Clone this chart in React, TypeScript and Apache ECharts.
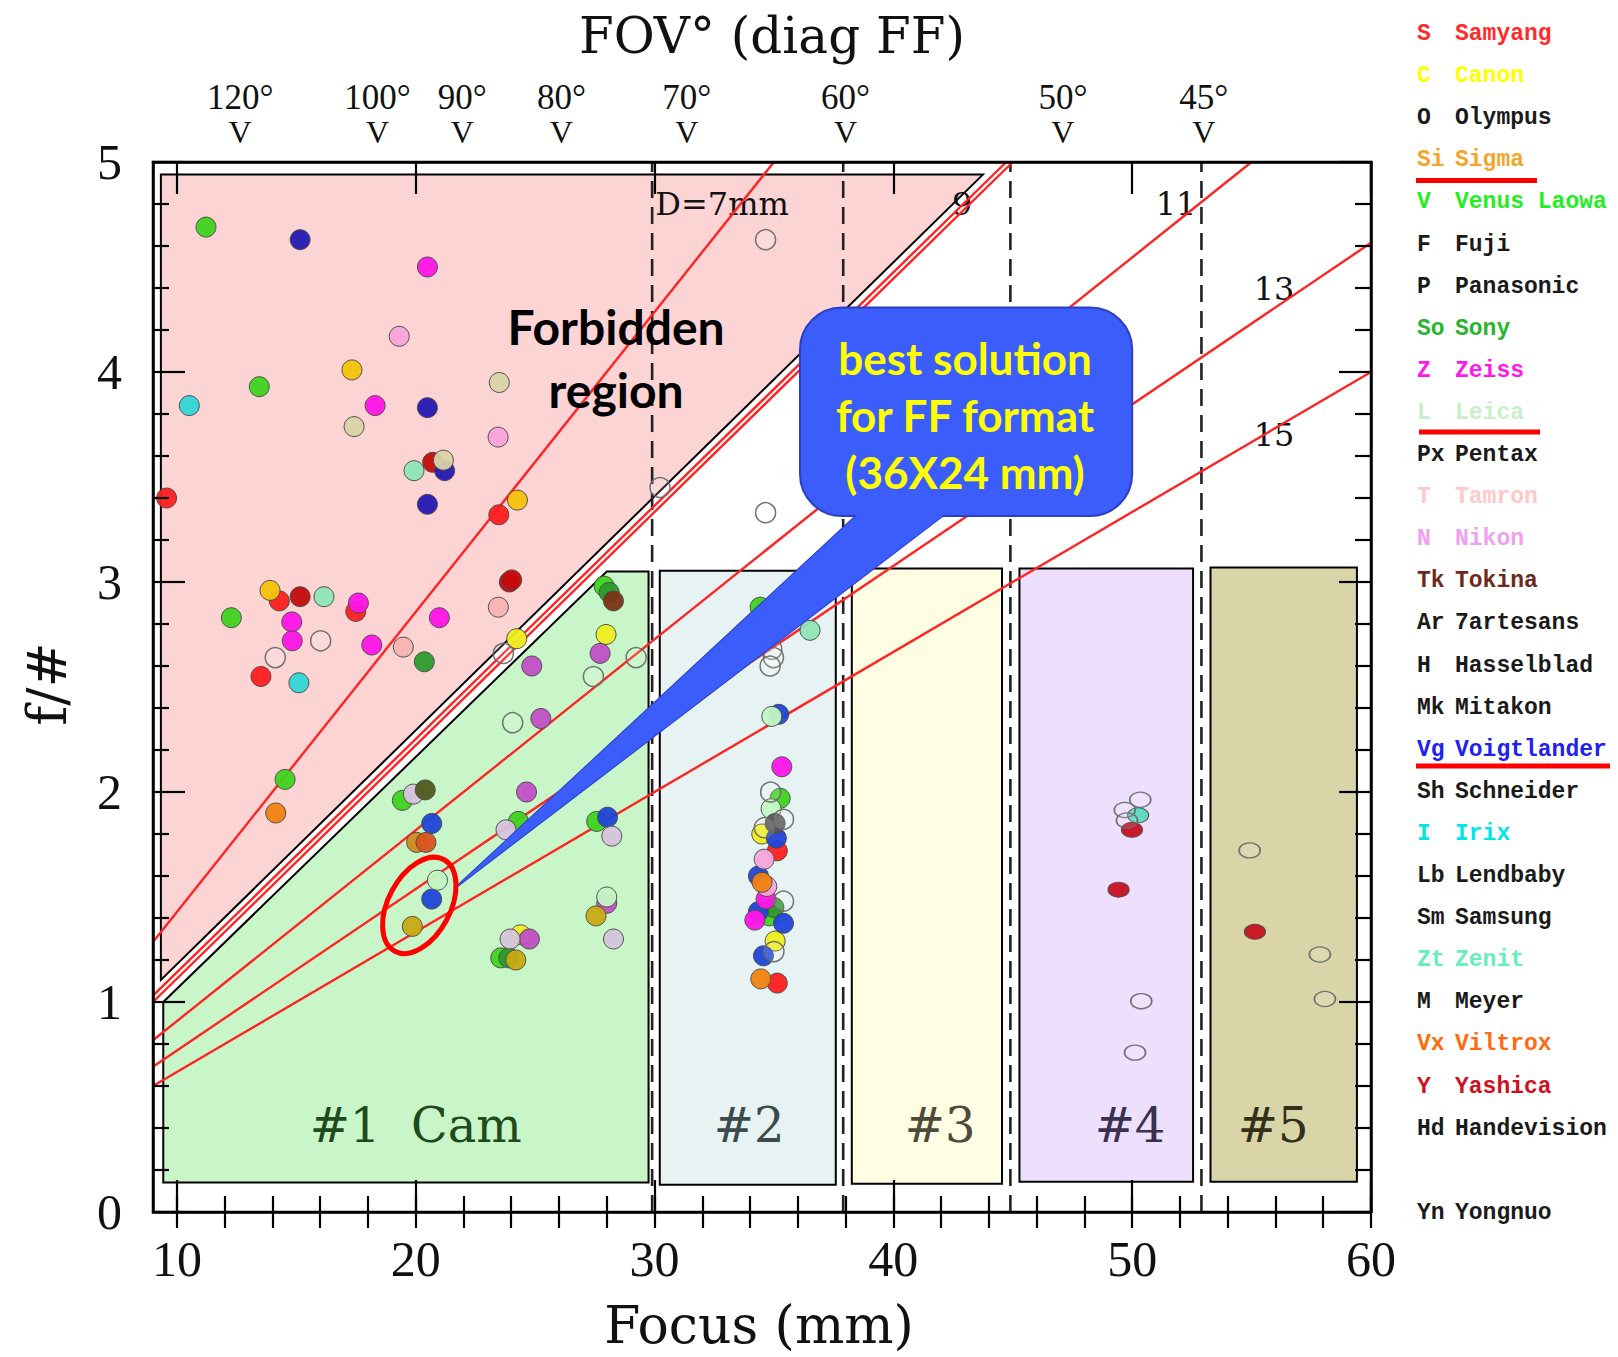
import React, { useEffect, useRef } from 'react';
import * as echarts from 'echarts';

// ---------- axes ----------
const X_MIN = 9;
const X_MAX = 60;
const Y_MIN = 0;
const Y_MAX = 5;
const X_MAJOR = [10, 20, 30, 40, 50, 60];
const X_MINOR = [10, 12, 14, 16, 18, 20, 22, 24, 26, 28, 30, 32, 34, 36, 38, 40, 42, 44, 46, 48, 50, 52, 54, 56, 58, 60];
const FOV_FOCAL = [12.65, 18.4, 21.95, 26.1, 31.35, 38.0, 47.1, 53.0];
const FOV_LABELS = ['120°', '100°', '90°', '80°', '70°', '60°', '50°', '45°'];
const DASHED_X = [29.9, 37.9, 44.9, 52.9];

// ---------- constant-aperture lines (D = 7, 9, 11, 13, 15 mm) ----------
const LINE_D7 = [[9, 1.286], [35, 5]];
const LINE_D9 = [[9, 1.0], [45, 5]];
const LINE_D9B = [[9, 1.03], [44.73, 5]];
const LINE_D11 = [[9, 0.818], [55, 5]];
const LINE_D13 = [[9, 0.692], [60, 4.615]];
const LINE_D15 = [[9, 0.6], [60, 4.0]];
const LINE_LABELS = ['D=7mm', '9', '11', '13', '15'];
const LINE_LABEL_POS = [[32.83, 4.8], [42.88, 4.8], [51.84, 4.8], [55.94, 4.395], [55.94, 3.7]];

// ---------- regions ----------
const PINK_REGION = [[9.33, 4.94], [43.75, 4.94], [9.33, 1.105]];
const CAM1_REGION = [[9.43, 0.14], [9.43, 1.0], [28.0, 3.05], [29.75, 3.05], [29.75, 0.14]];
const BOX2 = [[30.22, 0.13], [37.59, 3.054]];
const BOX3 = [[38.26, 0.135], [44.55, 3.064]];
const BOX4 = [[45.28, 0.144], [52.55, 3.064]];
const BOX5 = [[53.28, 0.144], [59.41, 3.069]];
const REGION_LABELS = ['#1  Cam', '#2', '#3', '#4', '#5'];
const REGION_LABEL_POS = [[20.0, 0.414], [33.96, 0.414], [41.96, 0.414], [49.91, 0.414], [55.9, 0.414]];

// ---------- callout ----------
const BUBBLE = [[36.09, 3.314], [50.0, 4.307]];
const BUBBLE_TAIL = [[21.65, 1.543], [38.86, 3.36], [42.58, 3.36]];
const BUBBLE_TEXT = 'best solution\nfor FF format\n(36X24 mm)';
const BUBBLE_TEXT_POS = [43.0, 3.795];
const FORBIDDEN_TEXT = 'Forbidden\nregion';
const FORBIDDEN_POS = [28.39, 4.067];
const HIGHLIGHT_CENTER = [20.15, 1.46];

// ---------- lens points (focal mm, f/#) ----------
const PTS_RED = [[9.57, 3.40], [23.48, 3.32], [14.29, 2.91], [17.49, 2.86], [13.52, 2.55], [35.14, 1.72], [35.14, 1.09]];
const PTS_DARKRED = [[20.71, 3.57], [23.92, 3.0], [24.02, 3.01], [15.16, 2.93]];
const PTS_GOLD = [[17.33, 4.01], [24.26, 3.39], [13.90, 2.96]];
const PTS_YELLOW = [[24.23, 2.73], [27.97, 2.75], [34.49, 1.80], [35.05, 1.29], [24.39, 1.32]];
const PTS_GREEN = [[11.22, 4.69], [13.45, 3.93], [12.28, 2.83], [14.53, 2.06], [19.44, 1.96], [27.89, 2.98], [24.30, 1.86], [27.58, 1.86], [23.56, 1.21], [34.42, 2.88], [35.26, 1.97], [34.8, 1.41]];
const PTS_DKGREEN = [[20.36, 2.62], [28.1, 2.95], [23.9, 1.21], [35.0, 1.45]];
const PTS_NAVY = [[15.16, 4.63], [20.49, 3.83], [21.21, 3.53], [20.49, 3.37]];
const PTS_BLUE = [[20.67, 1.85], [28.03, 1.88], [20.67, 1.49], [35.2, 2.37], [35.1, 1.78], [34.35, 1.60], [34.35, 1.43], [35.4, 1.375], [34.56, 1.22]];
const PTS_MAGENTA = [[20.49, 4.50], [18.30, 3.84], [17.60, 2.90], [14.81, 2.81], [14.83, 2.72], [20.99, 2.83], [18.16, 2.70], [35.33, 2.12], [34.67, 1.49], [34.2, 1.39]];
const PTS_PINK = [[19.31, 4.17], [23.45, 3.69], [34.59, 1.68], [34.7, 1.55]];
const PTS_SALMON = [[23.46, 2.88], [19.48, 2.69]];
const PTS_CYAN = [[10.52, 3.84], [15.11, 2.52]];
const PTS_TAN = [[17.42, 3.74], [23.50, 3.95], [21.16, 3.58]];
const PTS_AQUA = [[19.93, 3.53], [16.16, 2.93], [36.51, 2.77]];
const PTS_VIOLET = [[27.72, 2.66], [24.86, 2.60], [25.24, 2.35], [24.64, 2.00], [24.76, 1.30], [28.0, 1.47]];
const PTS_LTVIOLET = [[19.90, 1.99], [23.78, 1.82], [28.21, 1.79], [28.28, 1.30], [23.95, 1.30]];
const PTS_OLIVE = [[19.86, 1.36], [27.55, 1.41], [24.19, 1.20]];
const PTS_ORANGE = [[14.14, 1.90], [34.45, 1.11], [34.5, 1.57]];
const PTS_ORANGEBROWN = [[20.04, 1.76]];
const PTS_REDORANGE = [[20.43, 1.76]];
const PTS_BROWN = [[28.28, 2.91]];
const PTS_DKOLIVE = [[20.40, 2.01]];
const PTS_LTGREEN = [[20.91, 1.58], [28.0, 1.50], [34.91, 2.36], [34.88, 1.92]];
const PTS_DKGRAY = [[35.05, 1.85]];
const PTS_OPEN = [[30.23, 3.45], [16.02, 2.72], [14.12, 2.64], [23.67, 2.66], [29.23, 2.64], [27.44, 2.55], [24.06, 2.33], [34.65, 4.63], [34.65, 3.33], [34.91, 2.68], [34.98, 2.64], [34.84, 2.60], [34.86, 2.00], [35.4, 1.87], [34.6, 1.83], [35.4, 1.48], [35.0, 1.24]];
const PTS_FAR_OPEN = [[49.69, 1.914], [50.34, 1.963], [49.78, 1.864], [50.38, 1.004], [50.12, 0.759], [54.92, 1.722], [57.86, 1.226], [58.07, 1.014]];
const PTS_FAR_AQUA = [[50.25, 1.889]];
const PTS_FAR_RED = [[49.99, 1.82], [49.43, 1.535], [55.14, 1.334]];

// ---------- legend ----------
const LEG_CODES = ['S', 'C', 'O', 'Si', 'V', 'F', 'P', 'So', 'Z', 'L', 'Px', 'T', 'N', 'Tk', 'Ar', 'H', 'Mk', 'Vg', 'Sh', 'I', 'Lb', 'Sm', 'Zt', 'M', 'Vx', 'Y', 'Hd', 'Yn'];
const LEG_NAMES = ['Samyang', 'Canon', 'Olympus', 'Sigma', 'Venus Laowa', 'Fuji', 'Panasonic', 'Sony', 'Zeiss', 'Leica', 'Pentax', 'Tamron', 'Nikon', 'Tokina', '7artesans', 'Hasselblad', 'Mitakon', 'Voigtlander', 'Schneider', 'Irix', 'Lendbaby', 'Samsung', 'Zenit', 'Meyer', 'Viltrox', 'Yashica', 'Handevision', 'Yongnuo'];
const LEG_COLORS = ['#ff2a2a', '#ffff00', '#1a1a1a', '#f2a62a', '#22ee22', '#1a1a1a', '#1a1a1a', '#28b42c', '#ff18e8', '#c8f0c8', '#1a1a1a', '#ffc8c8', '#f0a0f0', '#6e2a18', '#1a1a1a', '#1a1a1a', '#1a1a1a', '#2020f0', '#1a1a1a', '#00e6e6', '#1a1a1a', '#1a1a1a', '#66eebb', '#1a1a1a', '#ff6a10', '#d01020', '#1a1a1a', '#1a1a1a'];

const SERIF = 'DejaVu Serif';
const TICK_FONT = 'Liberation Serif';
const SANS_BOLD = 'Lato';
const MONO = 'Liberation Mono';

function buildOption() {
  const axisLine = { color: '#000', width: 2.5 };
  const tickStyle = { color: '#000', width: 2.2 };

  const xBase = { type: 'value', min: X_MIN, max: X_MAX, splitLine: { show: false }, z: 20 };
  const yBase = { type: 'value', min: Y_MIN, max: Y_MAX, interval: 1, splitLine: { show: false }, minorSplitLine: { show: false }, z: 20 };

  const custom = (name: string, z: number, anchor: number[], build: (api: any) => any) => ({
    type: 'custom', name, z, silent: true, xAxisIndex: 0, yAxisIndex: 0,
    data: [anchor], renderItem: (_p: any, api: any) => build(api),
  });

  const polygon = (name: string, pts: number[][], fill: string, stroke: string | null, z: number, lw = 2) =>
    custom(name, z, pts[0], (api) => ({
      type: 'polygon',
      shape: { points: pts.map((p) => api.coord(p)) },
      style: { fill, stroke: stroke || 'none', lineWidth: stroke ? lw : 0 },
    }));

  const box = (name: string, b: number[][], fill: string, z: number) =>
    custom(name, z, b[0], (api) => {
      const a = api.coord([b[0][0], b[1][1]]);
      const c = api.coord([b[1][0], b[0][1]]);
      return { type: 'rect', shape: { x: a[0], y: a[1], width: c[0] - a[0], height: c[1] - a[1] }, style: { fill, stroke: '#000', lineWidth: 2 } };
    });

  const text = (str: string, p: number[], font: any, fill: string, extra: any = {}) => ({
    type: 'text', x: p[0], y: p[1],
    style: {
      text: str, fill, fontSize: font.size, fontFamily: font.family, fontWeight: font.weight || 'normal',
      align: 'center', verticalAlign: 'middle', textAlign: 'center', textVerticalAlign: 'middle', ...extra,
    },
  });

  const redLine = (name: string, pts: number[][]) => ({
    type: 'line', name, data: pts, z: 4, symbol: 'none', silent: true,
    lineStyle: { color: '#ff2424', width: 2.4 },
  });

  const scatter = (name: string, data: number[][], color: string, opts: any = {}) => ({
    type: 'scatter', name, data, z: 5, symbol: 'circle', symbolSize: opts.size || 20, silent: true,
    itemStyle: { color, borderColor: opts.border || '#4a4a4a', borderWidth: opts.bw || 1, opacity: 0.95 },
  });

  const series: any[] = [
    polygon('forbidden', PINK_REGION, '#fdd4d4', '#000', 1),
    polygon('cam1', CAM1_REGION, '#c8f6c8', '#000', 1),
    box('box2', BOX2, '#e7f3f3', 1),
    box('box3', BOX3, '#fffde2', 1),
    box('box4', BOX4, '#eddffd', 1),
    box('box5', BOX5, '#d9d5a8', 1),
    custom('regionLabels', 2, REGION_LABEL_POS[0], (api) => ({
      type: 'group',
      children: REGION_LABELS.map((s, i) => text(s, api.coord(REGION_LABEL_POS[i]), { size: 48, family: SERIF }, ['#1e4a1e', '#3c4a4c', '#4d4b3a', '#3b3050', '#33301a'][i])),
    })),
    ...DASHED_X.map((x, i) => ({
      type: 'line', name: 'dash' + i, data: [[x, Y_MIN], [x, Y_MAX]], z: 3, symbol: 'none', silent: true,
      lineStyle: { color: '#222', width: 2.6, type: [17, 9] },
    })),
    redLine('D7', LINE_D7),
    redLine('D9', LINE_D9),
    redLine('D9b', LINE_D9B),
    redLine('D11', LINE_D11),
    redLine('D13', LINE_D13),
    redLine('D15', LINE_D15),
    custom('lineLabels', 4, LINE_LABEL_POS[0], (api) => ({
      type: 'group',
      children: LINE_LABELS.map((s, i) => text(s, api.coord(LINE_LABEL_POS[i]), { size: 32, family: SERIF }, '#111')),
    })),
    scatter('Samyang', PTS_RED, '#ff1e1e'),
    scatter('Yashica', PTS_DARKRED, '#c40a0a'),
    scatter('Sigma', PTS_GOLD, '#f5c20a'),
    scatter('Canon', PTS_YELLOW, '#eeee1e'),
    scatter('Venus Laowa', PTS_GREEN, '#3fd21f'),
    scatter('Sony', PTS_DKGREEN, '#2c9a2c'),
    scatter('Voigtlander', PTS_NAVY, '#2618b4'),
    scatter('Voigtlander2', PTS_BLUE, '#1e44d8'),
    scatter('Zeiss', PTS_MAGENTA, '#ff14e6'),
    scatter('Nikon', PTS_PINK, '#f7a4da'),
    scatter('Tamron', PTS_SALMON, '#f7b4b4'),
    scatter('Irix', PTS_CYAN, '#33d6d6'),
    scatter('Pentax', PTS_TAN, '#d9d3a6'),
    scatter('Zenit', PTS_AQUA, '#8ee6b6'),
    scatter('Violet', PTS_VIOLET, '#c24fc6'),
    scatter('LtViolet', PTS_LTVIOLET, '#d6c4dc'),
    scatter('Olive', PTS_OLIVE, '#c9aa12'),
    scatter('Viltrox', PTS_ORANGE, '#f0820f'),
    scatter('OrangeBrown', PTS_ORANGEBROWN, '#d08a1c'),
    scatter('RedOrange', PTS_REDORANGE, '#d9541c'),
    scatter('Tokina', PTS_BROWN, '#7a3414'),
    scatter('DkOlive', PTS_DKOLIVE, '#4f5a1e'),
    scatter('Leica', PTS_LTGREEN, '#c4f7c4'),
    scatter('DkGray', PTS_DKGRAY, '#555555'),
    scatter('Open', PTS_OPEN, 'rgba(255,255,255,0.15)', { border: '#6a6a6a', bw: 1.5 }),
    scatter('FarRed', PTS_FAR_RED, '#c81020', { size: [21, 15] }),
    scatter('FarAqua', PTS_FAR_AQUA, '#5ad8c0', { size: [21, 15] }),
    scatter('FarOpen', PTS_FAR_OPEN, 'rgba(255,255,255,0.1)', { size: [21, 15], border: '#6a6a6a', bw: 1.5 }),
    custom('forbiddenText', 6, FORBIDDEN_POS, (api) =>
      text(FORBIDDEN_TEXT, api.coord(FORBIDDEN_POS), { size: 48, family: SANS_BOLD, weight: 'bold' }, '#000', { lineHeight: 63 })),
    polygon('tailOutline', BUBBLE_TAIL, '#3a5dfc', '#2b3fc0', 7, 2),
    custom('bubble', 8, BUBBLE[0], (api) => {
      const a = api.coord([BUBBLE[0][0], BUBBLE[1][1]]);
      const c = api.coord([BUBBLE[1][0], BUBBLE[0][1]]);
      return { type: 'rect', shape: { x: a[0], y: a[1], width: c[0] - a[0], height: c[1] - a[1], r: 42 }, style: { fill: '#3a5dfc', stroke: '#2b3fc0', lineWidth: 2 } };
    }),
    polygon('tailFill', BUBBLE_TAIL, '#3a5dfc', null, 9),
    custom('bubbleText', 10, BUBBLE_TEXT_POS, (api) =>
      text(BUBBLE_TEXT, api.coord(BUBBLE_TEXT_POS), { size: 44, family: SANS_BOLD, weight: 'bold' }, '#ffff00', { lineHeight: 57 })),
    custom('highlight', 11, HIGHLIGHT_CENTER, (api) => {
      const c = api.coord(HIGHLIGHT_CENTER);
      return { type: 'ellipse', x: c[0], y: c[1], rotation: -0.49, shape: { cx: 0, cy: 0, rx: 31, ry: 52 }, style: { fill: 'none', stroke: '#ff0000', lineWidth: 5 } };
    }),
  ];

  const centered = { align: 'center', verticalAlign: 'middle', textAlign: 'center', textVerticalAlign: 'middle' };
  const graphic: any[] = [
    { type: 'text', x: 772, y: 36, style: { text: 'FOV° (diag FF)', fill: '#111', fontSize: 50, fontFamily: SERIF, ...centered } },
    { type: 'text', x: 759, y: 1325, style: { text: 'Focus (mm)', fill: '#111', fontSize: 52, fontFamily: SERIF, ...centered } },
    { type: 'text', x: 47, y: 684, rotation: Math.PI / 2, style: { text: 'f/#', fill: '#111', fontSize: 54, fontFamily: SERIF, ...centered } },
  ];
  LEG_CODES.forEach((code, i) => {
    const row = i < 27 ? i : i + 1;
    const y = 34 + row * 42.1;
    const st = { fill: LEG_COLORS[i], fontSize: 23, fontFamily: MONO, fontWeight: 'bold', verticalAlign: 'middle', textVerticalAlign: 'middle', align: 'left', textAlign: 'left' };
    graphic.push({ type: 'text', x: 1417, y, style: { ...st, text: code } });
    graphic.push({ type: 'text', x: 1455, y, style: { ...st, text: LEG_NAMES[i] } });
  });
  graphic.push({ type: 'rect', shape: { x: 1416, y: 178, width: 121, height: 5 }, style: { fill: '#ff0000' } });
  graphic.push({ type: 'rect', shape: { x: 1419, y: 429.5, width: 121, height: 5 }, style: { fill: '#ff0000' } });
  graphic.push({ type: 'rect', shape: { x: 1416, y: 763.5, width: 194, height: 5 }, style: { fill: '#ff0000' } });

  const fovLabel = (v: number) => { const i = FOV_FOCAL.indexOf(v); return i >= 0 ? FOV_LABELS[i] : ''; };

  return {
    animation: false,
    backgroundColor: '#ffffff',
    grid: { left: 153, top: 162, width: 1218, height: 1050, show: true, backgroundColor: '#fff', borderColor: '#000', borderWidth: 2.5, containLabel: false, outerBoundsMode: 'none' },
    xAxis: [
      { ...xBase, position: 'bottom', axisLine: { show: true, onZero: false, lineStyle: axisLine },
        axisTick: { show: true, inside: true, length: 32, customValues: X_MAJOR, lineStyle: tickStyle },
        axisLabel: { show: true, customValues: X_MAJOR, margin: 22, fontFamily: TICK_FONT, fontSize: 50, color: '#111' } },
      { ...xBase, position: 'bottom', axisLine: { show: false },
        axisTick: { show: true, inside: true, length: 16, customValues: X_MINOR, lineStyle: tickStyle },
        axisLabel: { show: false } },
      { ...xBase, position: 'top', axisLine: { show: true, onZero: false, lineStyle: axisLine },
        axisTick: { show: true, inside: true, length: 32, customValues: X_MAJOR, lineStyle: tickStyle },
        axisLabel: { show: true, customValues: FOV_FOCAL, margin: 47, fontFamily: TICK_FONT, fontSize: 35, color: '#111', formatter: fovLabel } },
      { ...xBase, position: 'top', axisLine: { show: false },
        axisTick: { show: true, inside: true, length: 16, customValues: X_MINOR, lineStyle: tickStyle },
        axisLabel: { show: true, customValues: FOV_FOCAL, margin: 14, fontFamily: TICK_FONT, fontSize: 32, color: '#111', formatter: () => 'V' } },
    ],
    yAxis: [
      { ...yBase, position: 'left', axisLine: { show: true, onZero: false, lineStyle: axisLine },
        axisTick: { show: true, inside: true, length: 32, lineStyle: tickStyle },
        minorTick: { show: true, splitNumber: 5, length: 16, lineStyle: tickStyle },
        axisLabel: { show: true, margin: 31, fontFamily: TICK_FONT, fontSize: 50, color: '#111' } },
      { ...yBase, position: 'right', axisLine: { show: true, onZero: false, lineStyle: axisLine },
        axisTick: { show: true, inside: true, length: 32, lineStyle: tickStyle },
        minorTick: { show: true, splitNumber: 5, length: 16, lineStyle: tickStyle },
        axisLabel: { show: false } },
    ],
    series,
    graphic,
  };
}

export default function App() {
  const ref = useRef<HTMLDivElement>(null);
  useEffect(() => {
    if (!ref.current) return;
    const chart = echarts.init(ref.current, null, { renderer: 'svg' });
    chart.setOption(buildOption() as any);
    return () => chart.dispose();
  }, []);
  return <div ref={ref} style={{ position: 'fixed', left: 0, top: 0, width: 1618, height: 1357, background: '#fff' }} />;
}
